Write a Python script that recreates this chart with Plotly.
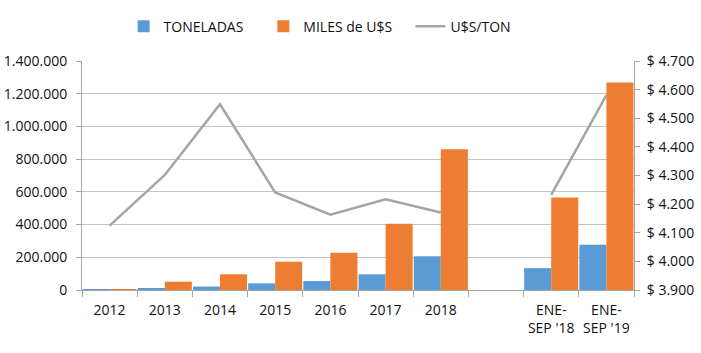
import plotly.graph_objects as go

categories = ["2012", "2013", "2014", "2015", "2016", "2017", "2018", " ",
              "ENE-<br>SEP '18", "ENE-<br>SEP '19"]
toneladas = [300, 11900, 21100, 40800, 54800, 96000, 206000, None, 133700, 277000]
miles_usd = [1200, 51000, 96000, 173000, 228000, 405000, 860000, None, 566000, 1269000]
usd_ton = [4125, 4302, 4549, 4241, 4163, 4217, 4171, None, 4232, 4581]

FONT = "Open Sans"
GRID = "#c4c4c4"
AX = "#a6a6a6"

fig = go.Figure()
fig.add_trace(go.Bar(x=categories, y=toneladas, name="TONELADAS", legend="legend",
                     marker=dict(color="#5B9BD5", line=dict(width=0))))
fig.add_trace(go.Bar(x=categories, y=miles_usd, name="MILES de U$S", legend="legend2",
                     marker=dict(color="#ED7D31", line=dict(width=0))))
fig.add_trace(go.Scatter(x=categories, y=usd_ton, name="U$S/TON", yaxis="y2",
                         legend="legend3", mode="lines", connectgaps=False,
                         line=dict(color="#A5A5A5", width=2.5)))

leg = dict(orientation="h", xanchor="left", y=1.15, yanchor="middle",
           font=dict(size=14), bgcolor="rgba(0,0,0,0)")

fig.update_layout(
    width=701, height=353,
    margin=dict(l=82, r=67, t=61, b=63, autoexpand=False),
    paper_bgcolor="white", plot_bgcolor="white",
    font=dict(family=FONT, size=14, color="#111111"),
    separators=",.",
    barmode="group", bargap=0.02, bargroupgap=0,
    showlegend=True,
    legend=dict(leg, x=0.0754),
    legend2=dict(leg, x=0.3285),
    legend3=dict(leg, x=0.595),
    xaxis=dict(type="category", categoryorder="array", categoryarray=categories,
               tickson="boundaries", ticks="outside", ticklen=6, tickcolor=AX,
               showline=True, linecolor=AX, linewidth=1, showgrid=False,
               tickangle=0, ticklabelstandoff=7, tickfont=dict(size=14)),
    yaxis=dict(range=[0, 1400000], dtick=200000, tickformat=",.0f",
               showgrid=True, gridcolor=GRID, gridwidth=1,
               showline=True, linecolor=AX, ticks="outside", ticklen=5, tickcolor=AX,
               zeroline=False, ticklabelstandoff=6, tickfont=dict(size=14)),
    yaxis2=dict(range=[3900, 4700], dtick=100, tickformat=",.0f", tickprefix="$ ",
                overlaying="y", side="right", showgrid=False,
                showline=True, linecolor=AX, ticks="outside", ticklen=5, tickcolor=AX,
                zeroline=False, ticklabelstandoff=4, tickfont=dict(size=14)),
)

fig.write_html("out.html")
